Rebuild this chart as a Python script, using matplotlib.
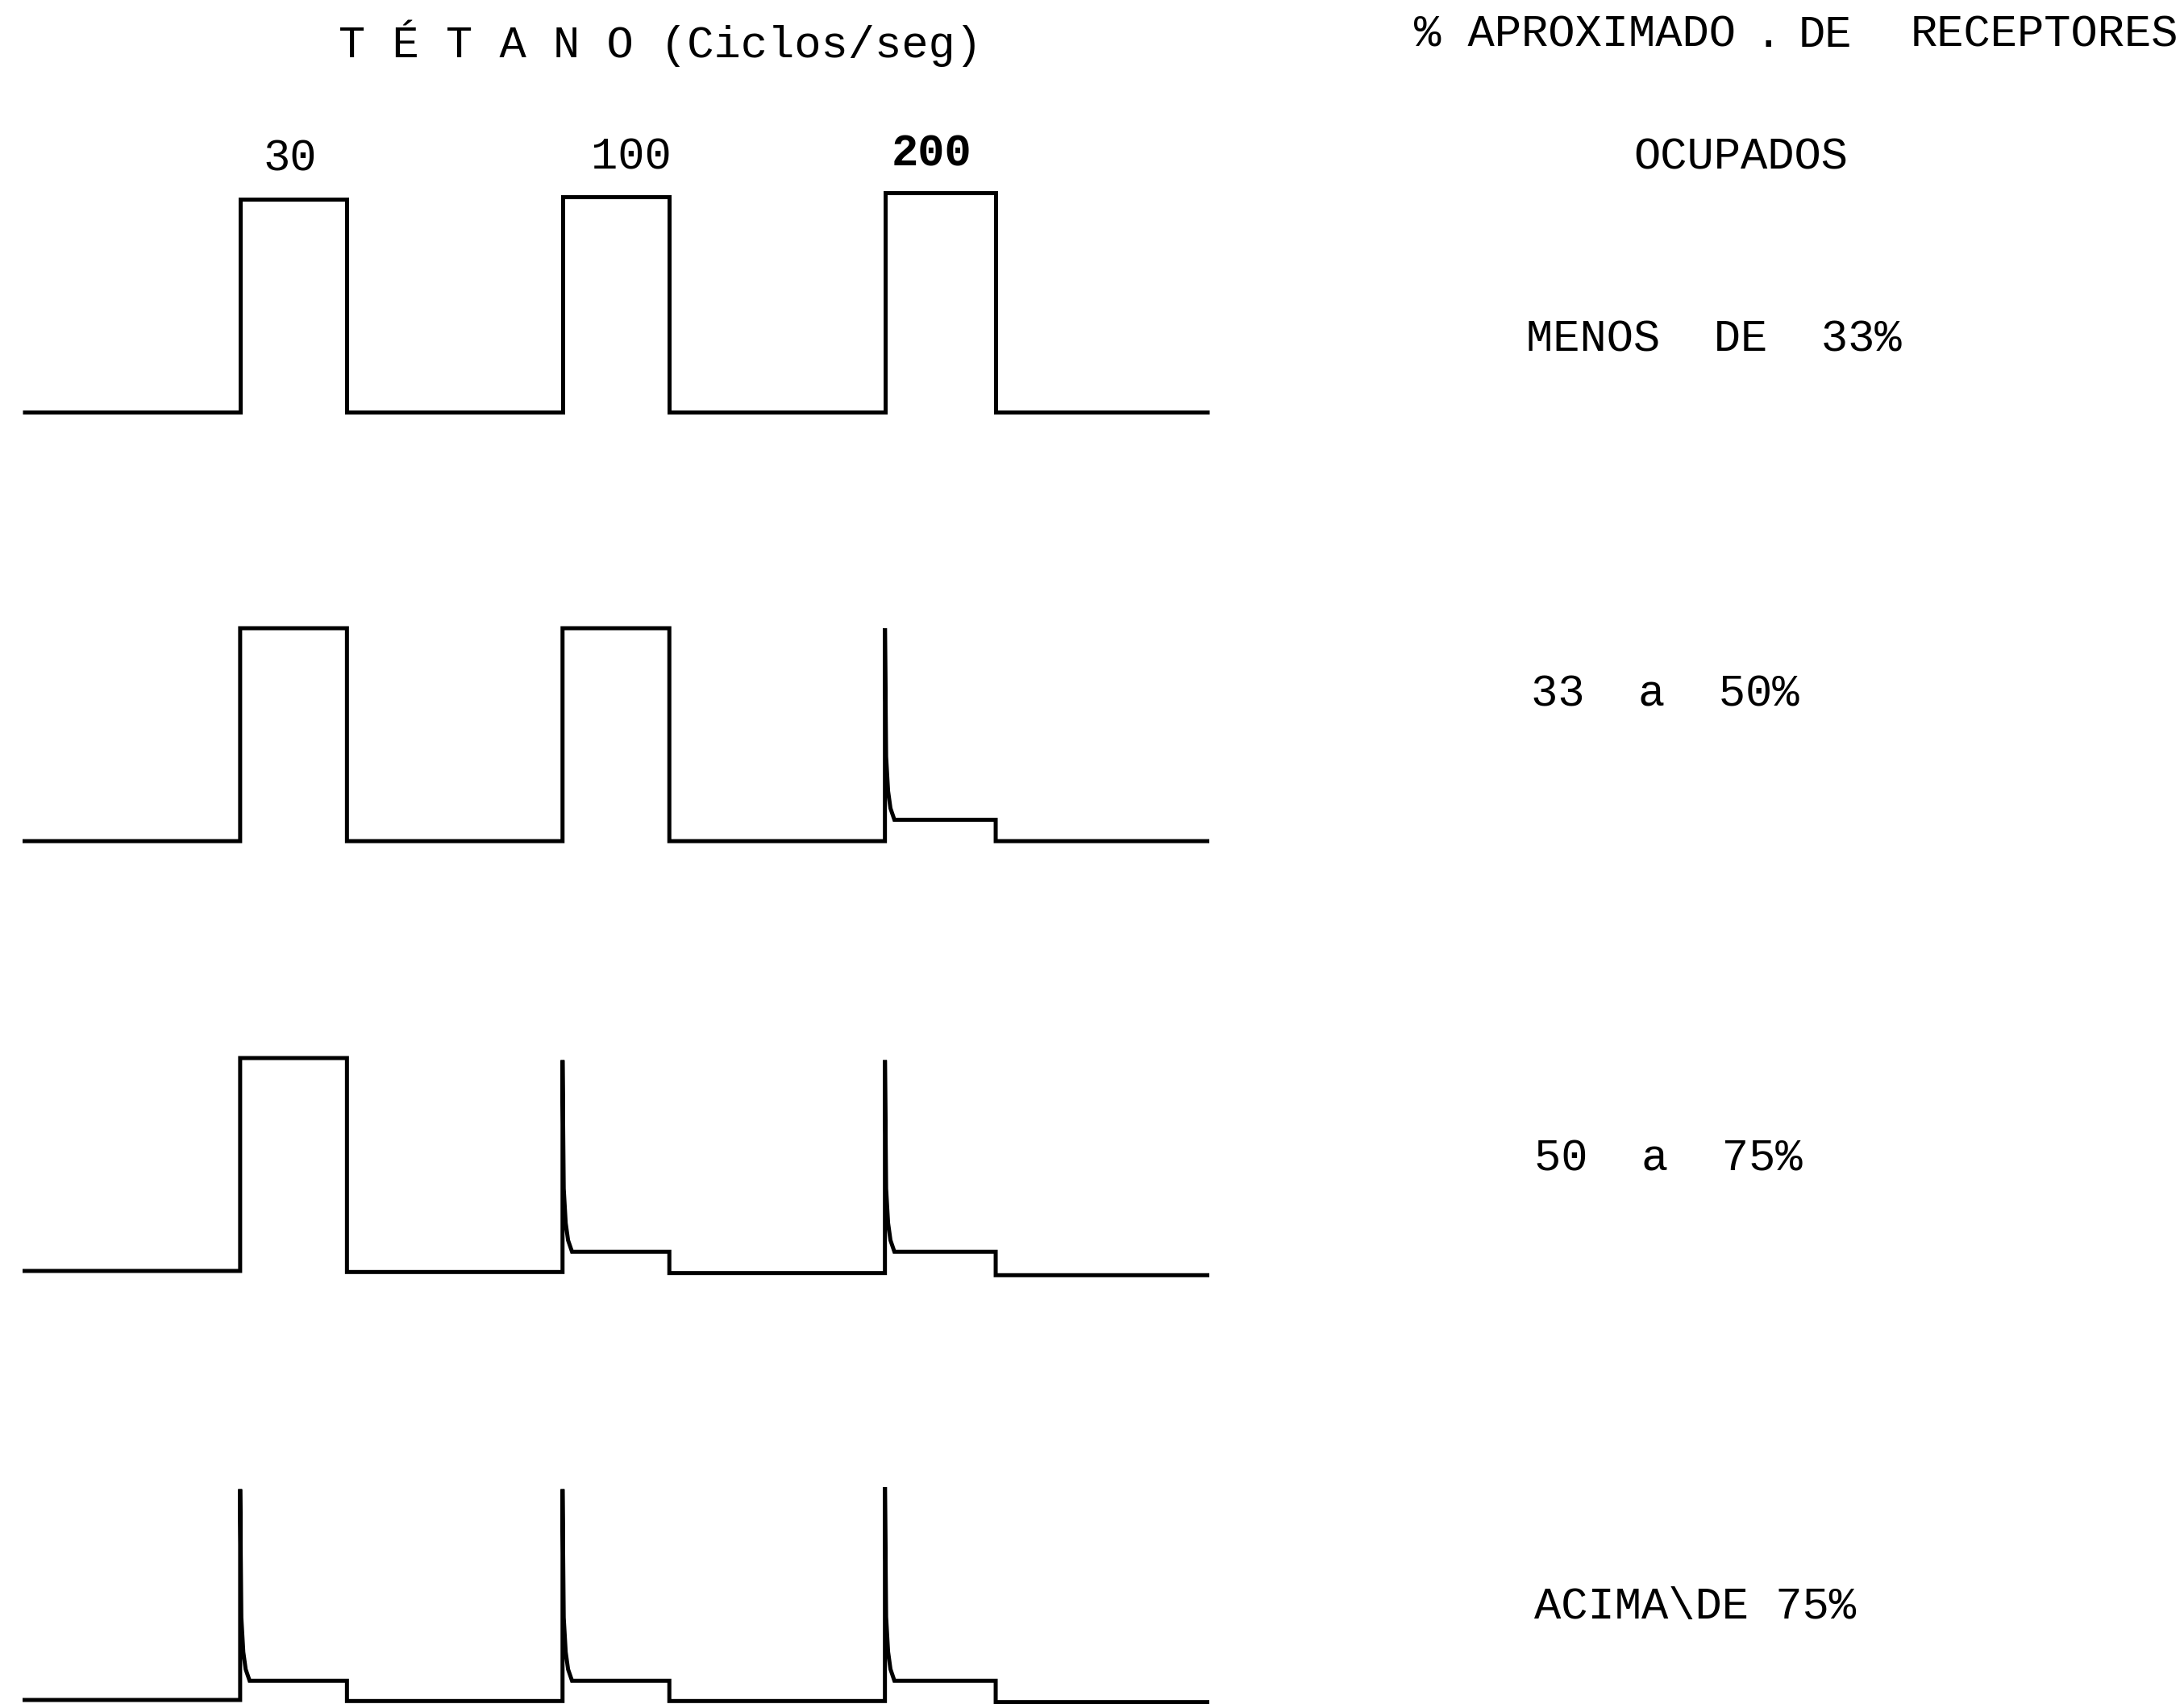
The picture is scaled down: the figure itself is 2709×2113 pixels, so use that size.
import matplotlib
matplotlib.use('Agg')
import matplotlib.pyplot as plt

plt.rcParams['font.family'] = ['Liberation Mono', 'DejaVu Sans Mono']

# ── data ───────────────────────────────────────────────────────────────────
# stimulus timing (s), same for every trace
ONSETS  = [5.5, 13.65, 21.8]
OFFSETS = [8.2, 16.35, 24.6]
T_END   = 30.0
FREQS   = ['30', '100', '200']

# response height relative to a sustained tetanus (1.0), one row per band
PEAKS = [
    [1.00, 1.01, 1.03],
    [1.00, 1.00, 1.00],
    [1.00, 0.99, 0.99],
    [0.99, 0.99, 1.00],
]
PLATEAUS = [
    [1.00, 1.01, 1.03],
    [1.00, 1.00, 0.10],
    [1.00, 0.09, 0.09],
    [0.09, 0.09, 0.09],
]
# baseline level before each train and after the last one
BASELINES = [
    [0.00, 0.00, 0.00, 0.00],
    [0.00, 0.00, 0.00, 0.00],
    [0.00, -0.005, -0.01, -0.02],
    [0.00, -0.005, -0.005, -0.01],
]
# decay right after the first twitch of a fading train
TAIL_DT   = [0.0, 0.03, 0.08, 0.14, 0.24]
TAIL_FRAC = [1.0, 0.33, 0.15, 0.06, 0.0]

ROW_LABELS = ['MENOS  DE  33%', '33  a  50%', '50  a  75%', 'ACIMA\\DE 75%']


def build_trace(peaks, plateaus, bases):
    t, y = [0.0], [bases[0]]
    for k in range(len(ONSETS)):
        on, off = ONSETS[k], OFFSETS[k]
        t.append(on); y.append(bases[k])
        if peaks[k] == plateaus[k]:          # sustained contraction
            t += [on, off]; y += [peaks[k], plateaus[k]]
        else:                                # fade
            for dt, f in zip(TAIL_DT, TAIL_FRAC):
                t.append(on + dt)
                y.append(plateaus[k] + f * (peaks[k] - plateaus[k]))
            t.append(off); y.append(plateaus[k])
        t.append(off); y.append(bases[k + 1])
    t.append(T_END); y.append(bases[-1])
    return t, y


# ── layout (pixels of the 2709x2113 page) ──────────────────────────────────
W, H = 2709, 2113
X0, X1 = 28, 1500
ROW_BASE = [511, 1043, 1576, 2108]
ROW_H = 264
FS = 40


def fx(x):
    return x / W


def fy(y):
    return 1 - y / H


fig = plt.figure(figsize=(W / 100, H / 100), dpi=100, facecolor='white')

for r in range(len(ROW_LABELS)):
    bottom = ROW_BASE[r] + 0.2 * ROW_H
    top = ROW_BASE[r] - 1.2 * ROW_H
    ax = fig.add_axes([fx(X0), fy(bottom), fx(X1 - X0), (bottom - top) / H])
    t, y = build_trace(PEAKS[r], PLATEAUS[r], BASELINES[r])
    ax.plot(t, y, color='black', lw=3.6, solid_joinstyle='miter',
            solid_capstyle='butt', clip_on=False)
    ax.set_xlim(0, T_END)
    ax.set_ylim(-0.2, 1.2)
    ax.axis('off')

# title and frequencies
fig.text(fx(420), fy(71), 'T É T A N O (Ciclos/seg)', fontsize=FS,
         ha='left', va='baseline')
for lab, x, yb in zip(FREQS, [326, 733, 1106], [212, 210, 205]):
    fig.text(fx(x), fy(yb), lab, fontsize=FS, ha='left', va='baseline',
             fontweight='bold' if lab == '200' else 'normal')

# right-hand column
fig.text(fx(1754), fy(58), '% APROXIMADO', fontsize=FS, ha='left', va='baseline')
fig.text(fx(2177), fy(58), '.', fontsize=FS, ha='left', va='baseline')
fig.text(fx(2231), fy(58), 'DE', fontsize=FS, ha='left', va='baseline')
fig.text(fx(2370), fy(58), 'RECEPTORES', fontsize=FS, ha='left', va='baseline')
fig.text(fx(2026), fy(209), 'OCUPADOS', fontsize=FS, ha='left', va='baseline')

for lab, x, yb in zip(ROW_LABELS, [1893, 1899, 1903, 1903], [435, 875, 1452, 2007]):
    fig.text(fx(x), fy(yb), lab, fontsize=FS, ha='left', va='baseline')

fig.savefig('out.png', dpi=100, facecolor='white')
plt.close(fig)
